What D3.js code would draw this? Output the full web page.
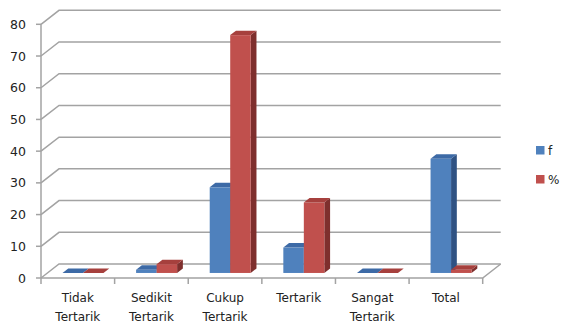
<!DOCTYPE html>
<html>
<head>
<meta charset="utf-8">
<script src="https://cdn.jsdelivr.net/npm/d3@7"></script>
<style>
body { margin: 0; background: #fff; }
text { font-family: "DejaVu Sans", sans-serif; fill: #222; }
</style>
</head>
<body>
<div id="chart"></div>
<script>
var categories = [["Tidak", "Tertarik"], ["Sedikit", "Tertarik"], ["Cukup", "Tertarik"], ["Tertarik"], ["Sangat", "Tertarik"], ["Total"]];
var seriesNames = ["f", "%"];
var fValues = [0, 1, 27, 8, 0, 36];
var pctValues = [0, 2.78, 75, 22.22, 0, 1];
var yTicks = [0, 10, 20, 30, 40, 50, 60, 70, 80];

var width = 564, height = 326;
// depth of the 3d box
var DX = 18, DY = -14;

var svg = d3.select("#chart").append("svg")
    .attr("width", width)
    .attr("height", height);

var x = d3.scaleBand()
    .domain(d3.range(categories.length))
    .range([41, 482.7]);

var y = d3.scaleLinear()
    .domain([0, 80])
    .range([278, 24.3]);

var grid = "#a3a3a3";

// walls: gridlines with diagonal on left wall
yTicks.forEach(function (t) {
    svg.append("polyline")
        .attr("points", [[41, y(t)], [41 + DX, y(t) + DY], [482.7 + DX, y(t) + DY]].join(" "))
        .attr("fill", "none")
        .attr("stroke", grid)
        .attr("stroke-width", 1.5);
});

// floor front edge + right edge
svg.append("polyline")
    .attr("points", [[41, y(0)], [482.7, y(0)], [482.7 + DX, y(0) + DY]].join(" "))
    .attr("fill", "none")
    .attr("stroke", grid)
    .attr("stroke-width", 1.5);

// y axis
svg.append("line")
    .attr("x1", 41).attr("x2", 41)
    .attr("y1", y(80)).attr("y2", y(0))
    .attr("stroke", grid).attr("stroke-width", 1.5);

svg.selectAll(".ytick")
    .data(yTicks)
    .enter()
    .append("line")
    .attr("x1", 36).attr("x2", 41)
    .attr("y1", function (d) { return y(d); })
    .attr("y2", function (d) { return y(d); })
    .attr("stroke", grid).attr("stroke-width", 1.5);

svg.selectAll(".ylabel")
    .data(yTicks)
    .enter()
    .append("text")
    .attr("x", 26)
    .attr("y", function (d) { return y(d) + 4.5; })
    .attr("text-anchor", "end")
    .attr("font-size", 12.5)
    .text(function (d) { return d; });

// category ticks
d3.range(categories.length + 1).forEach(function (i) {
    var xx = 41 + i * x.step();
    svg.append("line")
        .attr("x1", xx).attr("x2", xx)
        .attr("y1", y(0)).attr("y2", y(0) + 6)
        .attr("stroke", grid).attr("stroke-width", 1.5);
});

// category labels
categories.forEach(function (lines, i) {
    var t = svg.append("text")
        .attr("text-anchor", "middle")
        .attr("font-size", 12);
    lines.forEach(function (l, j) {
        t.append("tspan")
            .attr("x", x(i) + x.bandwidth() / 2)
            .attr("y", 302 + j * 19)
            .text(l);
    });
});

// bars
var colors = [
    {front: "#4f81bd", top: "#3d6aa6", side: "#2f5283"},
    {front: "#c0504d", top: "#a6403d", side: "#7e2f2d"}
];
var fz = 0.36, bz = 0.68; // depth of bar front and back planes
var barW = 20.5, inset = 15;

var bars = [];
categories.forEach(function (c, i) {
    [fValues[i], pctValues[i]].forEach(function (v, s) {
        bars.push({cat: i, s: s, v: v});
    });
});

var g = svg.selectAll(".bar")
    .data(bars)
    .enter()
    .append("g")
    .attr("class", "bar");

function face(d) {
    var x0 = x(d.cat) + inset + d.s * barW + fz * DX;
    var x1 = x0 + barW;
    var yb = y(0) + fz * DY;
    var yt = y(d.v) + fz * DY;
    var ddx = (bz - fz) * DX, ddy = (bz - fz) * DY;
    return {x0: x0, x1: x1, yb: yb, yt: yt, ddx: ddx, ddy: ddy};
}

g.append("polygon")
    .attr("points", function (d) {
        var f = face(d);
        return [[f.x1, f.yb], [f.x1 + f.ddx, f.yb + f.ddy], [f.x1 + f.ddx, f.yt + f.ddy], [f.x1, f.yt]].join(" ");
    })
    .attr("fill", function (d) { return colors[d.s].side; });

g.append("rect")
    .attr("x", function (d) { return face(d).x0; })
    .attr("y", function (d) { return face(d).yt; })
    .attr("width", barW)
    .attr("height", function (d) { var f = face(d); return f.yb - f.yt; })
    .attr("fill", function (d) { return colors[d.s].front; });

g.append("polygon")
    .attr("points", function (d) {
        var f = face(d);
        return [[f.x0, f.yt], [f.x0 + f.ddx, f.yt + f.ddy], [f.x1 + f.ddx, f.yt + f.ddy], [f.x1, f.yt]].join(" ");
    })
    .attr("fill", function (d) { return colors[d.s].top; });

// legend
seriesNames.forEach(function (n, i) {
    svg.append("rect")
        .attr("x", 536).attr("y", 146 + i * 29)
        .attr("width", 8.5).attr("height", 8.5)
        .attr("fill", colors[i].front);
    svg.append("text")
        .attr("x", 548).attr("y", 154.5 + i * 29)
        .attr("font-size", 12)
        .text(n);
});
</script>
</body>
</html>
